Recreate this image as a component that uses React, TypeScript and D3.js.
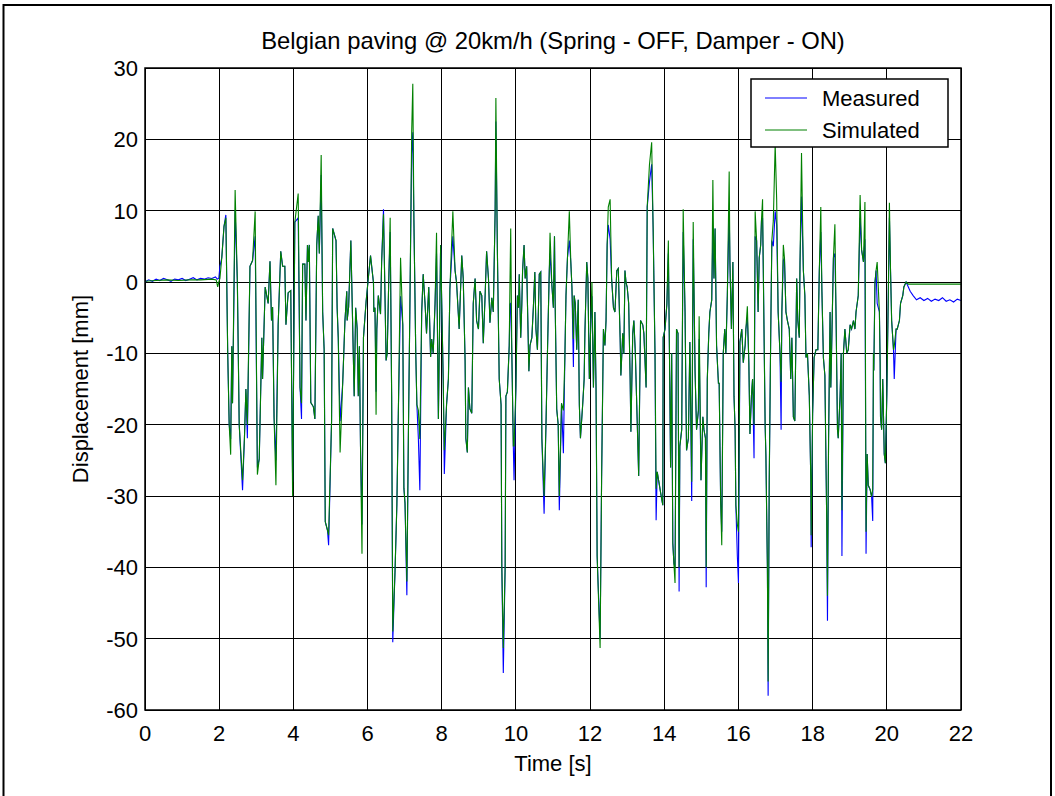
import React from "react";
import * as d3 from "d3";

const xTicks = [0, 2, 4, 6, 8, 10, 12, 14, 16, 18, 20, 22];
const yTicks = [30, 20, 10, 0, -10, -20, -30, -40, -50, -60];
const titleText = "Belgian paving @ 20km/h (Spring - OFF, Damper - ON)";
const xLabel = "Time [s]";
const yLabel = "Displacement [mm]";
const seriesNames = ["Measured", "Simulated"];

// Simulated displacement [time s, value mm]
const simulated: [number, number][] = [
  [0, 0.1], [0.3, 0.2], [0.6, 0.3], [0.9, 0.2], [1.2, 0.3], [1.5, 0.3], [1.8, 0.4], [1.92, 0.3], [1.96, -0.7], [1.99, 0],
  [2.02, 0.5], [2.07, 3.4], [2.13, 7.8], [2.18, 9], [2.23, -10], [2.27, -20], [2.31, -24.2], [2.34, -9], [2.36, -17], [2.43, 12.9],
  [2.49, 0], [2.54, -20], [2.63, -27.8], [2.68, -22], [2.72, -15], [2.76, -20], [2.83, 2.2], [2.9, 3], [2.97, 9.9], [3.03, -27],
  [3.08, -24.8], [3.15, -7.8], [3.17, -13.6], [3.24, -0.7], [3.32, -3], [3.37, 2.9], [3.41, -5.4], [3.44, -3.5], [3.48, -19], [3.53, -28.5],
  [3.59, -6], [3.66, 4.3], [3.71, 2.2], [3.77, 2.2], [3.8, -6], [3.86, -1.5], [3.93, -1.2], [3.98, -30], [4.04, 8.4], [4.13, 12.4],
  [4.18, -14.8], [4.22, -17], [4.25, 2.5], [4.31, 2.5], [4.34, -5.4], [4.38, 5.2], [4.4, 2.8], [4.43, 5.2], [4.47, -16.9], [4.54, -17.5],
  [4.58, -19.2], [4.63, 5.2], [4.67, 9.3], [4.7, 4], [4.75, 17.8], [4.79, -4.2], [4.83, -9.5], [4.86, -33.6], [4.92, -34.8], [4.95, -35.5],
  [5.03, -19.5], [5.06, 7.5], [5.15, 5.8], [5.18, -3.6], [5.21, -7.8], [5.26, -23.9], [5.33, -14.2], [5.39, -5.5], [5.44, -1.3], [5.45, -5.4],
  [5.49, -3.5], [5.55, 5.8], [5.64, -16], [5.68, -3.6], [5.72, -6.6], [5.75, -16], [5.78, -9], [5.81, -23], [5.85, -38.1], [5.89, -7.8],
  [5.96, -2.8], [6.02, 0.5], [6.08, 3.7], [6.16, -0.1], [6.17, -4.2], [6.2, -3.6], [6.23, -18.6], [6.25, -6.6], [6.29, -1.9], [6.35, -4.5],
  [6.38, 2.8], [6.43, 9.5], [6.47, -1.9], [6.5, -11], [6.53, -10], [6.57, -0.1], [6.61, 9], [6.65, -16], [6.68, -49], [6.74, -40.7],
  [6.79, -31.3], [6.83, -18.4], [6.89, 3.4], [6.95, -6], [6.98, -28.9], [7.01, -31], [7.06, -42], [7.1, -21.9], [7.14, -4.2], [7.19, 21],
  [7.22, 27.8], [7.25, 8.6], [7.3, -10], [7.33, -17.2], [7.37, -18], [7.41, -22], [7.46, -4.2], [7.5, 1.1], [7.55, -3], [7.59, -7.2],
  [7.65, -0.7], [7.7, -10.5], [7.73, -8], [7.77, -10], [7.82, -3], [7.86, 6.9], [7.91, -19.2], [7.97, 5.2], [8.04, -13.6], [8.07, -23.6],
  [8.13, -17.2], [8.18, -13.6], [8.22, -1], [8.3, 9.9], [8.36, 1.6], [8.4, -0.1], [8.47, -6.6], [8.54, 3.7], [8.58, 0.5], [8.63, -11],
  [8.65, -21.9], [8.69, -23.9], [8.72, -14.8], [8.76, -17.8], [8.81, -18.4], [8.85, -3], [8.9, 0.5], [8.94, -5.4], [8.99, -6.6], [9.03, -1.3],
  [9.08, -1.9], [9.12, -8.6], [9.17, -1.9], [9.21, 4.3], [9.26, 0.5], [9.3, -5.7], [9.35, -2.2], [9.39, -4.2], [9.44, 9.9], [9.46, 25.8],
  [9.5, 4.5], [9.55, -13.6], [9.6, -17.2], [9.62, -39.9], [9.66, -51.3], [9.71, -39.9], [9.73, -16], [9.77, -15.4], [9.82, -8.9], [9.84, 0],
  [9.86, 7.5], [9.89, -10], [9.93, -23], [9.95, -23], [10.0, -14.8], [10.04, -1.9], [10.07, -3.6], [10.09, 1.1], [10.13, -7.8], [10.16, -3],
  [10.18, 1.6], [10.22, 5.2], [10.25, 0.5], [10.29, 2.2], [10.35, -12.5], [10.38, -8.9], [10.43, -7.8], [10.47, -3.6], [10.51, 1.4], [10.54, -6.6],
  [10.58, -9.5], [10.63, 1.1], [10.67, 1.4], [10.7, -21.9], [10.76, -30], [10.81, -20.2], [10.85, -10], [10.9, 1.6], [10.92, 6.9], [10.97, -0.5],
  [11.01, -3.6], [11.04, 6.4], [11.06, -3.6], [11.1, -17.8], [11.14, -20], [11.17, -30], [11.23, -17], [11.28, -18], [11.32, -10.6], [11.35, -1.9],
  [11.39, 3.4], [11.44, 9.9], [11.48, 2.8], [11.51, -0.7], [11.55, -8], [11.57, -1.9], [11.6, -3], [11.64, -9.5], [11.68, -2.5], [11.71, -17.2],
  [11.74, -21.9], [11.8, -17.2], [11.84, -13.6], [11.86, -7.2], [11.91, 2.8], [11.94, 0.5], [11.98, -13.6], [12.02, -5.4], [12.05, 0], [12.09, -14.8],
  [12.13, -4.2], [12.16, -14.8], [12.19, -38.4], [12.27, -51.3], [12.31, -27.8], [12.34, -14.8], [12.36, -6.6], [12.4, -8.9], [12.43, -5.4], [12.46, 5.2],
  [12.49, 10.5], [12.54, 11.6], [12.58, 0.5], [12.63, -3.6], [12.67, -4.2], [12.72, 1.6], [12.76, 1.9], [12.81, -7.8], [12.83, -13.1], [12.88, -7.2],
  [12.91, -10.1], [12.94, 1.6], [12.97, -0.1], [13.0, -0.7], [13.04, -3], [13.08, -13.6], [13.1, -21], [13.15, -7.2], [13.18, -5.4], [13.22, -10],
  [13.27, -19.5], [13.31, -27.2], [13.36, -5.4], [13.42, -6], [13.45, -7.2], [13.51, -14.8], [13.54, 10.5], [13.6, 16.4], [13.66, 19.6], [13.7, 7.5],
  [13.75, -10], [13.78, -29], [13.81, -26.6], [13.87, -28.5], [13.9, -29.5], [13.96, -31.3], [13.97, -7.8], [14.02, -6.6], [14.07, -3.1], [14.11, 5.8],
  [14.14, -10], [14.17, -26], [14.2, -10], [14.23, -36.6], [14.26, -39.5], [14.29, -42.2], [14.33, -6.6], [14.37, -7.2], [14.4, -40], [14.42, -23],
  [14.47, -20.7], [14.51, 10.2], [14.56, -4.2], [14.6, -23.6], [14.65, -21.9], [14.69, -8.4], [14.74, -28], [14.78, 8.4], [14.83, -12.5], [14.87, -20.7],
  [14.92, -18], [14.94, -4.8], [14.99, -27.8], [15.04, -18.9], [15.07, -20.7], [15.11, -21.9], [15.13, -40], [15.16, -13.6], [15.2, -7.2], [15.23, -4.2],
  [15.28, -2.5], [15.31, 14.3], [15.34, 0.5], [15.37, 7.5], [15.41, -8.9], [15.46, -14.2], [15.48, -14.2], [15.52, -30.7], [15.55, -36.9], [15.59, -10],
  [15.63, -6.6], [15.66, -10], [15.7, -1.9], [15.75, 15.5], [15.77, 2.8], [15.81, -6.6], [15.85, 2.8], [15.88, -16], [15.91, -20.7], [15.93, -31.3],
  [15.97, -34], [16.0, -35], [16.04, -8.4], [16.09, -6.6], [16.13, -11.3], [16.18, -8.9], [16.2, -6.6], [16.24, -3.4], [16.28, -11.3], [16.31, -21.3],
  [16.35, -16], [16.38, -13.6], [16.42, -20], [16.45, 9.9], [16.49, 5.8], [16.53, -4.2], [16.56, 3.4], [16.6, 5.2], [16.62, 8.6], [16.65, 11.6],
  [16.67, 1.6], [16.72, -20.2], [16.74, -24.3], [16.78, -39.9], [16.8, -56], [16.83, -27.8], [16.87, -7.2], [16.9, 5.8], [16.94, 8.6], [16.99, 19.3],
  [17.03, 11.6], [17.07, -4.2], [17.12, -10], [17.15, -14], [17.17, -4.2], [17.21, 5.2], [17.24, 3.4], [17.28, -4.2], [17.32, -5.4], [17.37, -6.6],
  [17.41, -13.6], [17.44, -7.8], [17.48, -18.9], [17.52, -19.5], [17.57, 0.5], [17.6, -5.4], [17.64, -7.8], [17.66, 2.8], [17.7, 18.1], [17.75, 1.6],
  [17.79, -1.9], [17.82, -10.6], [17.86, -10], [17.91, -15.9], [17.95, -27.8], [17.96, -35.5], [18.0, -18.4], [18.04, -10.6], [18.09, -9.5], [18.14, -9.5],
  [18.18, 1.6], [18.22, 10.5], [18.25, -1.3], [18.29, -10.6], [18.33, -13.1], [18.38, -33.6], [18.4, -44], [18.43, -21.9], [18.47, -4.2], [18.49, -14.8],
  [18.51, -10], [18.56, 3.4], [18.6, 8.1], [18.63, -4.2], [18.67, -20.7], [18.69, -21.9], [18.74, -16], [18.77, -10], [18.79, -32], [18.83, -10],
  [18.87, -6.6], [18.92, -10], [18.96, -9.5], [19.01, -6], [19.05, -6.6], [19.1, -5.4], [19.14, -6.6], [19.17, -4.2], [19.23, -1.9], [19.28, 12.2],
  [19.32, 4.5], [19.37, 2.8], [19.41, 11.2], [19.44, -35], [19.47, -24.1], [19.5, -28.5], [19.55, -29.1], [19.59, -30.1], [19.62, -29], [19.64, -10],
  [19.65, -12.4], [19.68, -0.1], [19.71, 1.6], [19.74, 2.8], [19.8, -4.2], [19.82, -11.3], [19.83, -18.9], [19.86, -20.7], [19.89, -13.6], [19.9, -16],
  [19.93, -24.1], [19.96, -25.4], [20.0, -15.9], [20.04, -1.9], [20.07, 11.1], [20.1, 1.6], [20.13, -5.4], [20.18, -9.5], [20.2, -9], [20.25, -6.6],
  [20.28, -6.6], [20.34, -5.4], [20.37, -3], [20.43, -1.9], [20.46, -0.7], [20.52, 0], [20.58, -0.3], [22, -0.3],
];

// Measured displacement [time s, value mm]
const measured: [number, number][] = [
  [0, 0], [0.1, 0.3], [0.2, 0.1], [0.3, 0.4], [0.4, 0.2], [0.5, 0.5], [0.6, 0.3], [0.7, 0.1], [0.8, 0.4], [0.9, 0.3],
  [1.0, 0.5], [1.1, 0.2], [1.2, 0.4], [1.3, 0.6], [1.4, 0.3], [1.5, 0.5], [1.6, 0.4], [1.7, 0.6], [1.8, 0.5], [1.9, 0.7], [1.95, 0.4], [1.99, 0.5],
  [2.02, 2.2], [2.07, 3.4], [2.13, 7.8], [2.18, 9.4], [2.23, -10], [2.27, -20], [2.31, -22], [2.34, -9], [2.36, -17], [2.43, 10],
  [2.49, 0], [2.54, -20], [2.63, -29.2], [2.68, -22], [2.72, -15], [2.76, -21.9], [2.83, 2.2], [2.9, 3], [2.97, 6.4], [3.03, -26],
  [3.08, -24.8], [3.15, -7.8], [3.17, -13.6], [3.24, -0.7], [3.32, -3], [3.37, 2.9], [3.41, -5.4], [3.44, -3.5], [3.48, -19], [3.53, -25],
  [3.59, -6], [3.66, 4.3], [3.71, 2.2], [3.77, 2.2], [3.8, -6], [3.86, -1.5], [3.93, -1.2], [3.98, -28], [4.04, 8.4], [4.13, 9],
  [4.18, -14.8], [4.22, -19.2], [4.25, 2.5], [4.31, 2.5], [4.34, -5.4], [4.38, 5.2], [4.4, 2.8], [4.43, 5.2], [4.47, -16.9], [4.54, -17.5],
  [4.58, -19.2], [4.63, 5.2], [4.67, 9.3], [4.7, 4], [4.75, 15], [4.79, -4.2], [4.83, -9.5], [4.86, -33.6], [4.92, -34.8], [4.95, -36.9],
  [5.03, -19.5], [5.06, 7.5], [5.15, 5.8], [5.18, -3.6], [5.21, -7.8], [5.26, -19.5], [5.33, -14.2], [5.39, -5.5], [5.44, -1.3], [5.45, -5.4],
  [5.49, -3.5], [5.55, 5.8], [5.64, -16], [5.68, -3.6], [5.72, -6.6], [5.75, -16], [5.78, -9], [5.81, -23], [5.85, -34], [5.89, -7.8],
  [5.96, -2.8], [6.02, 0.5], [6.08, 3.7], [6.16, -0.1], [6.17, -4.2], [6.2, -3.6], [6.23, -15.4], [6.25, -6.6], [6.29, -1.9], [6.35, -4.5],
  [6.38, 2.8], [6.43, 10.2], [6.47, -1.9], [6.5, -11], [6.53, -10], [6.57, -0.1], [6.61, 7], [6.65, -16], [6.68, -50.5], [6.74, -40.7],
  [6.79, -31.3], [6.83, -18.4], [6.89, -2], [6.95, -6], [6.98, -28.9], [7.01, -31], [7.06, -43.9], [7.1, -21.9], [7.14, -4.2], [7.19, 18],
  [7.22, 21], [7.25, 8.6], [7.3, -10], [7.33, -17.2], [7.37, -21.9], [7.41, -29.2], [7.46, -4.2], [7.5, 1.1], [7.55, -3], [7.59, -7.2],
  [7.65, -0.7], [7.7, -10.5], [7.73, -8], [7.77, -10], [7.82, -3], [7.86, 4], [7.91, -19.2], [7.97, 5.2], [8.04, -13.6], [8.07, -26.9],
  [8.13, -17.2], [8.18, -13.6], [8.22, -1], [8.3, 6.4], [8.36, 1.6], [8.4, -0.1], [8.47, -6.6], [8.54, 3.7], [8.58, 0.5], [8.63, -11],
  [8.65, -21.9], [8.69, -23.9], [8.72, -14.8], [8.76, -17.8], [8.81, -18.4], [8.85, -3], [8.9, 0.5], [8.94, -5.4], [8.99, -6.6], [9.03, -1.3],
  [9.08, -1.9], [9.12, -8.6], [9.17, -1.9], [9.21, 4.3], [9.26, 0.5], [9.3, -5.7], [9.35, -2.2], [9.39, -4.2], [9.44, 9.9], [9.46, 22.5],
  [9.5, 4.5], [9.55, -13.6], [9.6, -17.2], [9.62, -39.9], [9.66, -54.8], [9.71, -39.9], [9.73, -16], [9.77, -15.4], [9.82, -8.9], [9.84, -3.1],
  [9.86, -3], [9.89, -10], [9.93, -23], [9.95, -27.8], [10.0, -14.8], [10.04, -1.9], [10.07, -3.6], [10.09, 1.1], [10.13, -7.8], [10.16, -3],
  [10.18, 1.6], [10.22, 5.2], [10.25, 0.5], [10.29, 2.2], [10.35, -12.5], [10.38, -8.9], [10.43, -7.8], [10.47, -3.6], [10.51, 1.4], [10.54, -6.6],
  [10.58, -9.5], [10.63, 1.1], [10.67, 1.4], [10.7, -21.9], [10.76, -32.5], [10.81, -20.2], [10.85, -10], [10.9, 1.6], [10.92, 4], [10.97, -0.5],
  [11.01, -3.6], [11.04, 6.4], [11.06, -3.6], [11.1, -17.8], [11.14, -20], [11.17, -32], [11.23, -17], [11.28, -24], [11.32, -10.6], [11.35, -1.9],
  [11.39, 3.4], [11.44, 5.8], [11.48, 2.8], [11.51, -0.7], [11.55, -11.9], [11.57, -1.9], [11.6, -3], [11.64, -9.5], [11.68, -2.5], [11.71, -17.2],
  [11.74, -21.9], [11.8, -17.2], [11.84, -13.6], [11.86, -7.2], [11.91, 2.8], [11.94, 0.5], [11.98, -13.6], [12.02, -5.4], [12.05, -2], [12.09, -14.8],
  [12.13, -4.2], [12.16, -14.8], [12.19, -38.4], [12.27, -50], [12.31, -27.8], [12.34, -14.8], [12.36, -6.6], [12.4, -8.9], [12.43, -5.4], [12.46, 5.2],
  [12.49, 8], [12.54, 6], [12.58, 0.5], [12.63, -3.6], [12.67, -4.2], [12.72, 1.6], [12.76, 1.9], [12.81, -7.8], [12.83, -13.1], [12.88, -7.2],
  [12.91, -10.1], [12.94, 1.6], [12.97, -0.1], [13.0, -0.7], [13.04, -3], [13.08, -13.6], [13.1, -21], [13.15, -7.2], [13.18, -5.4], [13.22, -10],
  [13.27, -19.5], [13.31, -27.2], [13.36, -5.4], [13.42, -6], [13.45, -7.2], [13.51, -14.8], [13.54, 10.5], [13.6, 14], [13.66, 16.5], [13.7, 7.5],
  [13.75, -10], [13.78, -33.4], [13.81, -26.6], [13.87, -28.5], [13.9, -29.5], [13.96, -31.3], [13.97, -7.8], [14.02, -6.6], [14.07, -3.1], [14.11, 4],
  [14.14, -10], [14.17, -26], [14.2, -10], [14.23, -36.6], [14.26, -39.5], [14.29, -40], [14.33, -6.6], [14.37, -7.2], [14.4, -43.4], [14.42, -23],
  [14.47, -20.7], [14.51, 7], [14.56, -4.2], [14.6, -23.6], [14.65, -21.9], [14.69, -8.4], [14.74, -30.7], [14.78, 6], [14.83, -12.5], [14.87, -20.7],
  [14.92, -18], [14.94, -8], [14.99, -27.8], [15.04, -18.9], [15.07, -20.7], [15.11, -21.9], [15.13, -42.8], [15.16, -13.6], [15.2, -7.2], [15.23, -4.2],
  [15.28, -2.5], [15.31, 7], [15.34, 0.5], [15.37, 7.5], [15.41, -8.9], [15.46, -14.2], [15.48, -14.2], [15.52, -30.7], [15.55, -35], [15.59, -10],
  [15.63, -6.6], [15.66, -10], [15.7, -1.9], [15.75, 10], [15.77, 2.8], [15.81, -6.6], [15.85, 2.8], [15.88, -16], [15.91, -20.7], [15.93, -31.3],
  [15.97, -38.4], [16.0, -42.2], [16.04, -8.4], [16.09, -6.6], [16.13, -11.3], [16.18, -8.9], [16.2, -6.6], [16.24, -5], [16.28, -11.3], [16.31, -21.3],
  [16.35, -16], [16.38, -13.6], [16.42, -24.7], [16.45, 6.4], [16.49, 5.8], [16.53, -4.2], [16.56, 3.4], [16.6, 5.2], [16.62, 8.6], [16.65, 9],
  [16.67, 1.6], [16.72, -20.2], [16.74, -24.3], [16.78, -39.9], [16.8, -58], [16.83, -27.8], [16.87, -7.2], [16.9, 5.8], [16.94, 5], [16.99, 9.9],
  [17.03, 8], [17.07, -4.2], [17.12, -10], [17.15, -20.7], [17.17, -4.2], [17.21, 3], [17.24, 3.4], [17.28, -4.2], [17.32, -5.4], [17.37, -6.6],
  [17.41, -13.6], [17.44, -7.8], [17.48, -18.9], [17.52, -19.5], [17.57, 0.5], [17.6, -5.4], [17.64, -7.8], [17.66, 2.8], [17.7, 12], [17.75, 1.6],
  [17.79, -1.9], [17.82, -10.6], [17.86, -10], [17.91, -15.9], [17.95, -27.8], [17.96, -37.2], [18.0, -18.4], [18.04, -10.6], [18.09, -9.5], [18.14, -9.5],
  [18.18, 1.6], [18.22, 7], [18.25, -1.3], [18.29, -10.6], [18.33, -13.1], [18.38, -33.6], [18.4, -47.5], [18.43, -21.9], [18.47, -4.2], [18.49, -14.8],
  [18.51, -10], [18.56, 3.4], [18.6, 4], [18.63, -4.2], [18.67, -20.7], [18.69, -21.9], [18.74, -16], [18.77, -10], [18.79, -38.4], [18.83, -10],
  [18.87, -6.6], [18.92, -10], [18.96, -9.5], [19.01, -6], [19.05, -6.6], [19.1, -5.4], [19.14, -6.6], [19.17, -4.2], [19.23, -1.9], [19.28, 9],
  [19.32, 4.5], [19.37, 2.8], [19.41, 6], [19.44, -38.1], [19.47, -24.1], [19.5, -28.5], [19.55, -29.1], [19.59, -30.1], [19.62, -33.5], [19.64, -10],
  [19.65, -12.4], [19.68, -0.1], [19.71, 1.6], [19.74, -3], [19.8, -4.2], [19.82, -11.3], [19.83, -18.9], [19.86, -20.7], [19.89, -13.6], [19.9, -16],
  [19.93, -24.1], [19.96, -25.4], [20.0, -15.9], [20.04, -1.9], [20.07, 9], [20.1, 1.6], [20.13, -5.4], [20.18, -9.5], [20.2, -13.6], [20.25, -6.6],
  [20.28, -6.6], [20.34, -5.4], [20.37, -3], [20.43, -1.9], [20.46, -0.7], [20.52, 0], [20.58, -0.7], [20.63, -1.3], [20.71, -1.9], [20.8, -2.5],
  [20.9, -2.2], [21.0, -2.6], [21.1, -2.3], [21.2, -2.7], [21.3, -2.4], [21.4, -2.6], [21.5, -2.2], [21.6, -2.7], [21.7, -2.5], [21.8, -2.8], [21.9, -2.4], [22, -2.6],
];

const seriesColors = ["#0000ff", "#008000"];

export default function App() {
  const W = 1055;
  const H = 796;
  const plot = { left: 145, top: 68, right: 961, bottom: 710 };
  const x = d3.scaleLinear().domain([0, 22]).range([plot.left, plot.right]);
  const y = d3.scaleLinear().domain([-60, 30]).range([plot.bottom, plot.top]);
  const line = d3
    .line<[number, number]>()
    .x((d) => x(d[0]))
    .y((d) => y(d[1]));
  const font = "'Liberation Sans', Arial, Helvetica, sans-serif";
  const fs = 22;
  const legend = { x: 751, y: 79, w: 197, h: 68 };

  return (
    <svg
      width={W}
      height={H}
      style={{ position: "absolute", left: 0, top: 0, background: "#fff" }}
      fontFamily={font}
    >
      <rect x={0} y={0} width={W} height={H} fill="#fff" />
      <rect x={3.5} y={5} width={1047.5} height={H + 10} fill="none" stroke="#000" strokeWidth={2} />
      <defs>
        <clipPath id="plotclip">
          <rect x={plot.left} y={plot.top} width={plot.right - plot.left} height={plot.bottom - plot.top} />
        </clipPath>
      </defs>
      <g stroke="#000" strokeWidth={1} shapeRendering="crispEdges">
        {xTicks.map((t) => (
          <line key={"gx" + t} x1={x(t)} x2={x(t)} y1={plot.top} y2={plot.bottom} />
        ))}
        {yTicks.map((t) => (
          <line key={"gy" + t} x1={plot.left} x2={plot.right} y1={y(t)} y2={y(t)} />
        ))}
      </g>
      <g clipPath="url(#plotclip)" fill="none" strokeWidth={1.1}>
        <path d={line(measured) || ""} stroke={seriesColors[0]} />
        <path d={line(simulated) || ""} stroke={seriesColors[1]} />
      </g>
      <rect
        x={plot.left}
        y={plot.top}
        width={plot.right - plot.left}
        height={plot.bottom - plot.top}
        fill="none"
        stroke="#000"
        strokeWidth={1.5}
      />
      <g fontSize={fs} fill="#000">
        {xTicks.map((t) => (
          <text key={"xt" + t} x={x(t)} y={plot.bottom + 31} textAnchor="middle">
            {t}
          </text>
        ))}
        {yTicks.map((t) => (
          <text key={"yt" + t} x={plot.left - 7} y={y(t) + 8} textAnchor="end">
            {t}
          </text>
        ))}
      </g>
      <text x={(plot.left + plot.right) / 2} y={49} textAnchor="middle" fontSize={23.8}>
        {titleText}
      </text>
      <text x={(plot.left + plot.right) / 2} y={771} textAnchor="middle" fontSize={fs}>
        {xLabel}
      </text>
      <text
        transform={`translate(88, ${(plot.top + plot.bottom) / 2}) rotate(-90)`}
        textAnchor="middle"
        fontSize={fs}
      >
        {yLabel}
      </text>
      <g>
        <rect x={legend.x} y={legend.y} width={legend.w} height={legend.h} fill="#fff" stroke="#000" strokeWidth={1.5} />
        {seriesNames.map((name, i) => (
          <g key={name}>
            <line
              x1={765}
              x2={807}
              y1={legend.y + 19 + i * 32}
              y2={legend.y + 19 + i * 32}
              stroke={seriesColors[i]}
              strokeWidth={1}
            />
            <text x={822} y={legend.y + 19 + i * 32 + 8} fontSize={fs}>
              {name}
            </text>
          </g>
        ))}
      </g>
    </svg>
  );
}
